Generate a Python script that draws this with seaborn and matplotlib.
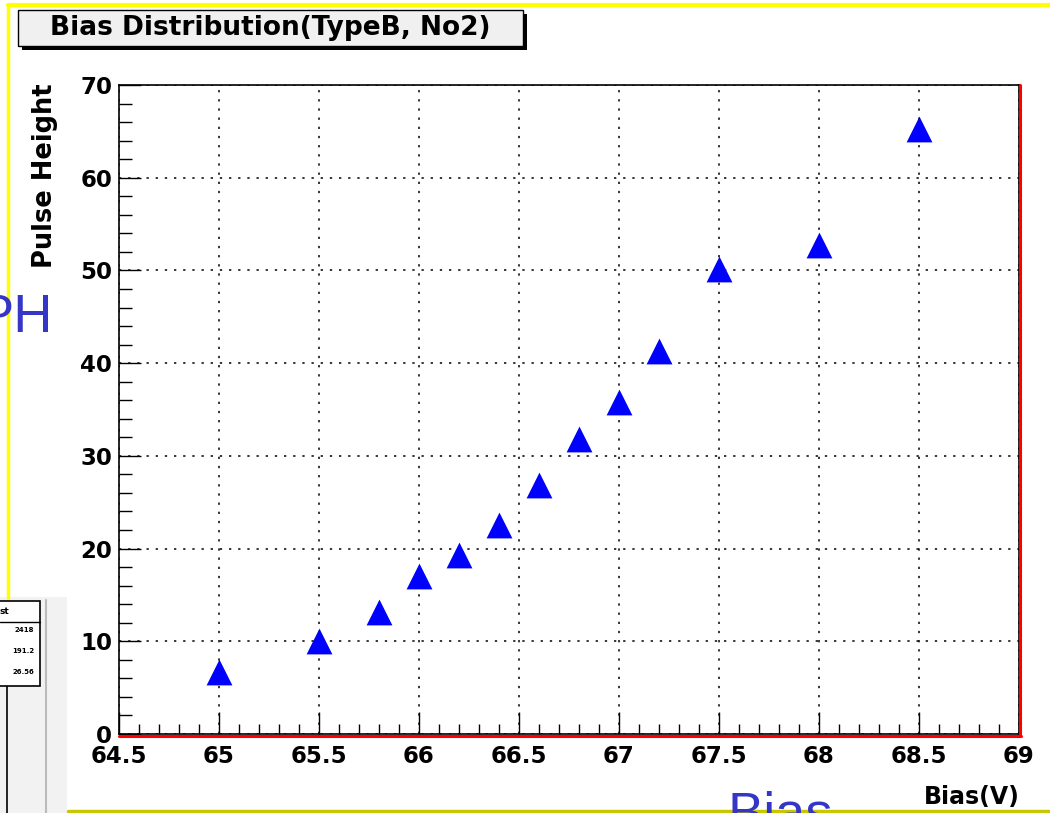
import numpy as np
import matplotlib
matplotlib.use("Agg")
import matplotlib.pyplot as plt
import matplotlib.patches as mpatches
import matplotlib.lines as mlines
from matplotlib.ticker import MultipleLocator, FormatStrFormatter
from matplotlib.transforms import offset_copy
import seaborn as sns
import pandas as pd

# Bias scan: pulse height vs. applied bias voltage
bias_v = [65.0, 65.5, 65.8, 66.0, 66.2, 66.4, 66.6, 66.8, 67.0, 67.2, 67.5, 68.0, 68.5]
pulse_height = [6.7, 10.0, 13.2, 17.0, 19.3, 22.5, 26.9, 31.8, 35.8, 41.3, 50.2, 52.7, 65.3]

title = "Bias Distribution(TypeB, No2)"
x_title = "Bias(V)"
y_title = "Pulse Height"
stat_values = ["2418", "191.2", "26.56"]

sns.set_style("white")
plt.rcParams["font.family"] = ["DejaVu Sans"]
plt.rcParams.update({
    "text.color": "black",
    "axes.labelcolor": "black",
    "xtick.color": "black",
    "ytick.color": "black",
})

W, H = 1050, 813
fig = plt.figure(figsize=(W / 100, H / 100), dpi=100)


def fx(px):
    return px / W


def fy(py):
    return 1 - py / H


# frame area in pixels
L, R, T, B = 119, 1019, 85, 734
ax = fig.add_axes([fx(L), fy(B), fx(R - L), (B - T) / H])

df = pd.DataFrame({"bias": bias_v, "ph": pulse_height})
sns.scatterplot(data=df, x="bias", y="ph", marker="^", s=345, color="#0000ff",
                linewidth=0, ax=ax, zorder=5)

ax.set_xlim(64.5, 69)
ax.set_ylim(0, 70)
ax.xaxis.set_major_locator(MultipleLocator(0.5))
ax.xaxis.set_minor_locator(MultipleLocator(0.1))
ax.yaxis.set_major_locator(MultipleLocator(10))
ax.yaxis.set_minor_locator(MultipleLocator(2))
ax.xaxis.set_major_formatter(FormatStrFormatter("%g"))
ax.yaxis.set_major_formatter(FormatStrFormatter("%g"))
ax.set_xlabel("")
ax.set_ylabel("")

ax.tick_params(which="both", direction="in", width=1.0, color="black",
               bottom=True, left=True, top=False, right=False)
ax.tick_params(axis="x", which="major", length=16, pad=8, labelsize=16.5)
ax.tick_params(axis="x", which="minor", length=7.5)
ax.tick_params(axis="y", which="major", length=16, pad=5, labelsize=16.5)
ax.tick_params(axis="y", which="minor", length=9)
for lab in ax.get_xticklabels() + ax.get_yticklabels():
    lab.set_fontweight("bold")
    lab.set_color("black")

ax.grid(True, which="major", color="black", linestyle=(0, (1.5, 4.5)), linewidth=1.1)

for side in ["top", "left", "bottom", "right"]:
    ax.spines[side].set_color("black")
    ax.spines[side].set_linewidth(1.2)

# red border along the bottom and right edges of the frame
tr_b = offset_copy(ax.transAxes, fig=fig, x=0, y=-1.5, units="dots")
tr_r = offset_copy(ax.transAxes, fig=fig, x=1.5, y=0, units="dots")
ax.add_line(mlines.Line2D([0, 1.002], [0, 0], transform=tr_b, color="#ff0000",
                          lw=2.2, clip_on=False, zorder=6))
ax.add_line(mlines.Line2D([1, 1], [0, 1], transform=tr_r, color="#ff0000",
                          lw=2.2, clip_on=False, zorder=6))

# axis titles
fig.text(fx(45), fy(83), y_title, rotation=90, ha="center", va="top",
         fontsize=18.5, fontweight="bold")
fig.text(fx(1020), fy(797), x_title, ha="right", va="center",
         fontsize=17, fontweight="bold")

# title box with drop shadow
bx0, bx1, by0, by1 = 18, 523, 10, 46
fig.patches.append(mpatches.Rectangle((fx(bx0 + 4), fy(by1 + 4)), fx(bx1 - bx0), (by1 - by0) / H,
                                      transform=fig.transFigure, facecolor="black",
                                      edgecolor="none", zorder=1))
fig.patches.append(mpatches.Rectangle((fx(bx0), fy(by1)), fx(bx1 - bx0), (by1 - by0) / H,
                                      transform=fig.transFigure, facecolor="#f0f0f0",
                                      edgecolor="black", lw=1.0, zorder=2))
fig.text(fx((bx0 + bx1) / 2), fy((by0 + by1) / 2), title, ha="center", va="center",
         fontsize=19, fontweight="bold", zorder=3)

# canvas edges
fig.add_artist(mlines.Line2D([fx(8), 1], [fy(5), fy(5)], color="#ffff00", lw=3))
fig.add_artist(mlines.Line2D([fx(8), fx(8)], [fy(5), fy(598)], color="#ffff00", lw=2.5))
fig.add_artist(mlines.Line2D([fx(68), 1], [fy(811), fy(811)], color="#c8c800", lw=2.5))

# neighbouring panel with stats box on the lower left
fig.patches.append(mpatches.Rectangle((0, 0), fx(67), (H - 597) / H, transform=fig.transFigure,
                                      facecolor="#f2f2f2", edgecolor="none", zorder=1))
fig.add_artist(mlines.Line2D([fx(46), fx(46)], [fy(600), 0], color="#bbbbbb", lw=1.5))
fig.add_artist(mlines.Line2D([fx(7), fx(7)], [fy(685), 0], color="black", lw=1.2))
fig.patches.append(mpatches.Rectangle((fx(-2), fy(686)), fx(42), (686 - 601) / H,
                                      transform=fig.transFigure, facecolor="white",
                                      edgecolor="black", lw=1.2, zorder=3))
fig.add_artist(mlines.Line2D([0, fx(40)], [fy(622), fy(622)], color="black", lw=1.0, zorder=4))
fig.text(fx(0), fy(611), "st", ha="left", va="center", fontsize=6.5, fontweight="bold", zorder=5)
for i, v in enumerate(stat_values):
    fig.text(fx(34), fy(630 + i * 21), v, ha="right", va="center", fontsize=5,
             fontweight="bold", zorder=5)

# large labels from the surrounding slide
fig.text(fx(53), fy(318), "PH", ha="right", va="center", fontsize=39,
         color="#3535c8", family="Liberation Sans")
fig.text(fx(728), fy(790), "Bias", ha="left", va="top", fontsize=39,
         color="#3535c8", family="Liberation Sans")

fig.savefig("out.png", dpi=100)
